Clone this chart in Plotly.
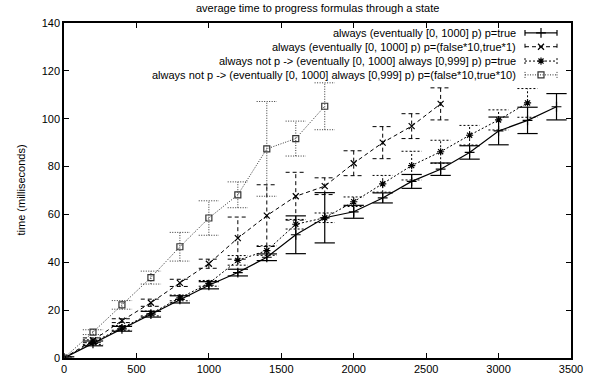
import plotly.graph_objects as go

# ---------------- data ----------------
x_plus = [0, 200, 400, 600, 800, 1000, 1200, 1400, 1600, 1800, 2000, 2200, 2400, 2600, 2800, 3000, 3200, 3400]
plus_y = [0, 6.1, 12.2, 18.3, 24.5, 30.4, 35.7, 42.1, 51.5, 58.6, 61.1, 66.9, 73.8, 78.9, 85.9, 94.9, 99.3, 105.0]
plus_err = [0.5, 1.0, 1.0, 1.2, 1.5, 1.5, 1.4, 1.4, 7.9, 10.5, 2.7, 2.1, 2.9, 2.6, 2.8, 5.8, 5.5, 5.5]

x_cross = [0, 200, 400, 600, 800, 1000, 1200, 1400, 1600, 1800, 2000, 2200, 2400, 2600]
cross_y = [0, 7.4, 15.6, 23.1, 31.4, 39.4, 50.1, 59.5, 67.6, 71.8, 81.4, 90.0, 96.9, 106.2]
cross_err = [0.5, 1.0, 0.8, 1.5, 1.5, 1.9, 8.8, 12.9, 10.0, 3.5, 5.2, 6.7, 5.2, 6.7]

x_star = [0, 200, 400, 600, 800, 1000, 1200, 1400, 1600, 1800, 2000, 2200, 2400, 2600, 2800, 3000, 3200]
star_y = [0, 6.6, 12.6, 18.6, 25.1, 31.2, 40.8, 44.9, 55.9, 58.6, 65.3, 72.8, 80.4, 86.2, 93.1, 99.5, 106.6]
star_err = [0.5, 1.0, 1.0, 1.0, 1.2, 1.2, 2.0, 2.0, 2.0, 2.0, 2.0, 3.5, 6.0, 4.8, 4.1, 4.2, 6.0]

x_sq = [0, 200, 400, 600, 800, 1000, 1200, 1400, 1600, 1800]
sq_y = [0, 10.8, 22.2, 33.6, 46.5, 58.5, 68.2, 87.4, 91.7, 105.2]
sq_err = [0.5, 1.0, 1.8, 2.7, 6.0, 7.2, 5.4, 19.8, 7.3, 9.8]

series_names = [
    "always (eventually [0, 1000] p) p=true",
    "always (eventually [0, 1000] p) p=(false*10,true*1)",
    "always not p -> (eventually [0, 1000] always [0,999] p) p=true",
    "always not p -> (eventually [0, 1000] always [0,999] p) p=(false*10,true*10)",
]
x_ticks = [0, 500, 1000, 1500, 2000, 2500, 3000, 3500]
y_ticks = [0, 20, 40, 60, 80, 100, 120, 140]

title_text = "average time to progress formulas through a state"
y_title = "time (milliseconds)"

FONT = "Liberation Sans, Arial, Helvetica, sans-serif"

# plot area in pixels
W, H = 596, 387
L, R, T, B = 64, 25, 23, 25
PW, PH = W - L - R, H - T - B

styles = [
    dict(color="#000000", dash="solid", symbol="cross-thin-open", width=1.2, msize=7),
    dict(color="#000000", dash="4px,3px", symbol="x-thin-open", width=1.0, msize=6),
    dict(color="#000000", dash="2px,2px", symbol="asterisk-open", width=1.0, msize=6),
    dict(color="#333333", dash="1px,1.5px", symbol="square-open", width=1.0, msize=6),
]

data = [
    (x_plus, plus_y, plus_err),
    (x_cross, cross_y, cross_err),
    (x_star, star_y, star_err),
    (x_sq, sq_y, sq_err),
]

CAP = 70  # half cap width in x data units (~10 px)

fig = go.Figure()

for (xs, ys, es), st in zip(data, styles):
    ex, ey = [], []
    for x, y, e in zip(xs, ys, es):
        lo, hi = y - e, y + e
        ex += [x, x, None, x - CAP, x + CAP, None, x - CAP, x + CAP, None]
        ey += [lo, hi, None, lo, lo, None, hi, hi, None]
    fig.add_trace(go.Scatter(
        x=ex, y=ey, mode="lines", showlegend=False, hoverinfo="skip",
        line=dict(color=st["color"], width=st["width"], dash=st["dash"]),
    ))
    fig.add_trace(go.Scatter(
        x=xs, y=ys, mode="lines+markers", showlegend=False,
        line=dict(color=st["color"], width=st["width"], dash=st["dash"]),
        marker=dict(symbol=st["symbol"], size=st["msize"], color=st["color"],
                    line=dict(color=st["color"], width=1.2)),
    ))

# ---------------- custom legend (right aligned text, sample at right) ----------------
leg_rows = [33, 47, 61.5, 75.5]
text_right = 518
s0, s1, sm = 525, 557, 541
for name, st, yy in zip(series_names, styles, leg_rows):
    fig.add_annotation(x=text_right, y=yy, xref="x2", yref="y2", text=name,
                       showarrow=False, xanchor="right", yanchor="middle",
                       font=dict(family=FONT, size=11, color="black"))
    fig.add_trace(go.Scatter(
        x=[s0, s1, None, s0, s0, None, s1, s1], y=[yy, yy, None, yy - 3, yy + 3, None, yy - 3, yy + 3],
        mode="lines", xaxis="x2", yaxis="y2", showlegend=False, hoverinfo="skip",
        line=dict(color=st["color"], width=st["width"], dash=st["dash"]),
    ))
    fig.add_trace(go.Scatter(
        x=[sm], y=[yy], mode="markers", xaxis="x2", yaxis="y2", showlegend=False, hoverinfo="skip",
        marker=dict(symbol=st["symbol"], size=st["msize"], color=st["color"],
                    line=dict(color=st["color"], width=1.2)),
    ))

fig.add_annotation(x=0.5, y=(H - B - 8) / PH, xref="paper", yref="paper", text=title_text,
                   showarrow=False, xanchor="center", yanchor="middle",
                   font=dict(family=FONT, size=11, color="black"))
fig.add_annotation(x=(20 - L) / PW, y=0.5, xref="paper", yref="paper", text=y_title,
                   showarrow=False, xanchor="center", yanchor="middle", textangle=-90,
                   font=dict(family=FONT, size=11, color="black"))

axis_common = dict(
    showgrid=False, zeroline=False, showline=True, linecolor="black", linewidth=1.5,
    mirror="allticks", ticks="inside", ticklen=5, tickwidth=1, tickcolor="black",
    tickfont=dict(family=FONT, size=11, color="black"),
)

fig.update_layout(
    width=W, height=H,
    margin=dict(l=L, r=R, t=T, b=B, pad=0),
    paper_bgcolor="white", plot_bgcolor="white",
    showlegend=False,
    xaxis=dict(range=[0, 3500], tickvals=x_ticks, **axis_common),
    yaxis=dict(range=[0, 140], tickvals=y_ticks, **axis_common),
    xaxis2=dict(overlaying="x", range=[L, W - R], visible=False),
    yaxis2=dict(overlaying="y", range=[H - B, T], visible=False),
)

fig.write_html("out.html", config={"displayModeBar": False},
               post_script="document.body.style.margin='0px';")
